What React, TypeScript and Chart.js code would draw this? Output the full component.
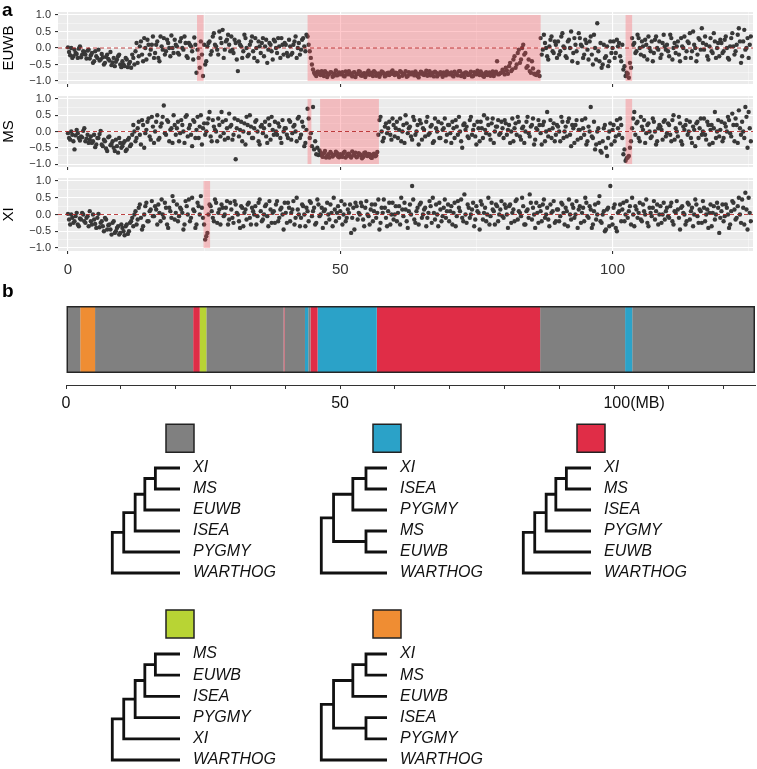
import React, { useEffect, useRef } from 'react';
import { Chart, registerables } from 'chart.js';

Chart.register(...registerables);
const FONT_FAMILY = '"Liberation Sans", Arial, Helvetica, sans-serif';
Chart.defaults.font.family = FONT_FAMILY;
Chart.defaults.color = '#333';

// ---------------- Panel a: window values ----------------
// series A windows start at WINDOW_START_A, series B windows at WINDOW_START_B, both every WINDOW_STEP_MB
const WINDOW_START_A = 0;
const WINDOW_START_B = 0.2;
const WINDOW_STEP_MB = 0.4;

const EUWB_VALUES_A = [
  0.02,-0.22,-0.3,-0.05,-0.18,-0.02,-0.28,-0.1,-0.2,-0.08,-0.32,-0.15,-0.4,-0.25,-0.05,-0.35,-0.28,-0.45,-0.2,-0.38,-0.52,-0.3,-0.42,-0.25,-0.5,
  -0.4,-0.55,-0.35,-0.48,-0.6,-0.3,-0.1,-0.45,0.05,-0.2,0.3,-0.35,0.1,-0.05,0.35,-0.15,0.2,-0.4,0.05,0.3,-0.1,0.15,-0.25,0.0,0.25,
  0.05,-0.2,0.3,-0.05,0.15,-0.3,0.1,-0.1,0.32,-0.75,-0.3,0.2,-0.85,-0.5,0.05,0.2,-0.1,0.45,0.05,-0.2,0.3,0.55,-0.05,0.25,0.1,
  0.35,-0.15,0.15,-0.7,0.1,-0.3,0.4,0.0,-0.2,0.2,-0.1,0.3,-0.4,0.05,0.15,-0.25,0.25,-0.05,0.1,-0.35,0.2,-0.15,0.05,0.3,-0.2,
  0.1,-0.25,0.05,-0.15,0.2,-0.3,0.15,-0.05,0.3,-0.1,0.35,-0.1,-0.5,-0.75,-0.85,-0.72,-0.82,-0.76,-0.7,-0.88,-0.78,-0.74,-0.84,-0.68,-0.8,
  -0.8,-0.73,-0.86,-0.77,-0.7,-0.82,-0.75,-0.88,-0.79,-0.72,-0.84,-0.76,-0.81,-0.69,-0.78,-0.85,-0.74,-0.8,-0.87,-0.71,-0.77,-0.83,-0.75,-0.79,-0.68,
  -0.82,-0.76,-0.88,-0.73,-0.8,-0.7,-0.85,-0.78,-0.74,-0.83,-0.77,-0.89,-0.72,-0.8,-0.76,-0.84,-0.7,-0.79,-0.86,-0.75,-0.81,-0.73,-0.87,-0.78,-0.71,
  -0.8,-0.74,-0.86,-0.77,-0.83,-0.7,-0.79,-0.88,-0.75,-0.81,-0.72,-0.85,-0.78,-0.69,-0.82,-0.76,-0.87,-0.73,-0.8,-0.84,-0.71,-0.77,-0.4,-0.79,-0.74,
  -0.72,-0.6,-0.78,-0.45,-0.65,-0.25,-0.5,-0.05,-0.35,0.1,-0.15,-0.55,-0.7,-0.4,-0.78,-0.82,-0.72,0.3,-0.05,0.15,-0.25,0.05,0.35,-0.15,0.1,
  0.2,-0.1,0.45,0.0,-0.3,0.25,0.5,-0.15,0.1,-0.45,0.3,0.05,-0.2,0.15,-0.35,0.35,-0.5,0.0,0.75,-0.4,-0.6,0.1,-0.25,-0.55,0.2,
  0.0,-0.3,0.25,0.15,-0.4,-0.65,-0.85,-0.78,-0.45,0.3,0.15,-0.1,0.3,-0.2,0.05,0.25,-0.35,0.0,0.2,-0.15,0.35,-0.05,-0.3,0.15,0.05,
  0.1,-0.25,0.3,0.0,-0.15,0.2,-0.4,0.05,0.35,-0.1,0.15,-0.3,0.5,0.0,-0.2,0.25,0.6,-0.05,0.1,-0.35,0.3,-0.15,0.2,0.0,-0.25,
  0.15,-0.1,0.35,-0.3,0.05,0.45,-0.2,0.1,0.6,-0.45,0.2,-0.05,0.3,0.1,
];
const EUWB_VALUES_B = [
  -0.12,0.0,-0.25,-0.15,-0.3,0.05,-0.2,-0.12,-0.32,-0.05,-0.22,-0.45,-0.1,-0.3,-0.38,-0.18,-0.5,-0.27,-0.33,-0.12,-0.44,-0.55,-0.35,-0.2,-0.58,
  -0.5,-0.3,-0.58,-0.42,-0.2,-0.5,0.15,-0.25,0.2,-0.4,0.0,0.25,-0.2,0.1,-0.3,0.1,-0.3,0.35,-0.05,-0.2,0.25,0.0,0.38,-0.15,0.1,
  -0.15,0.2,0.0,0.35,-0.25,0.15,0.05,-0.35,0.1,-0.05,-0.6,-0.2,0.1,-0.4,0.15,-0.2,0.35,0.1,-0.05,0.5,0.15,-0.3,0.2,0.4,-0.1,
  -0.05,0.25,-0.35,0.2,0.05,-0.1,0.3,-0.25,0.1,0.35,-0.3,0.0,0.2,-0.15,0.3,0.05,-0.45,0.15,-0.1,0.25,0.0,0.3,-0.3,0.1,0.15,
  -0.15,0.25,-0.2,0.1,0.35,0.0,-0.2,0.25,0.05,0.4,0.1,-0.3,-0.65,-0.8,-0.72,-0.79,-0.7,-0.85,-0.75,-0.81,-0.73,-0.87,-0.77,-0.83,-0.74,
  -0.77,-0.84,-0.71,-0.8,-0.76,-0.86,-0.73,-0.79,-0.7,-0.83,-0.78,-0.88,-0.74,-0.81,-0.75,-0.7,-0.84,-0.77,-0.8,-0.73,-0.86,-0.76,-0.82,-0.72,-0.79,
  -0.75,-0.81,-0.7,-0.84,-0.77,-0.87,-0.73,-0.8,-0.76,-0.71,-0.85,-0.78,-0.74,-0.82,-0.69,-0.79,-0.83,-0.75,-0.72,-0.86,-0.78,-0.8,-0.74,-0.83,-0.77,
  -0.76,-0.83,-0.72,-0.79,-0.7,-0.85,-0.77,-0.74,-0.81,-0.78,-0.86,-0.73,-0.8,-0.75,-0.71,-0.84,-0.78,-0.82,-0.74,-0.77,-0.85,-0.72,-0.8,-0.76,-0.66,
  -0.8,-0.68,-0.55,-0.7,-0.35,-0.6,-0.15,-0.45,0.0,-0.2,-0.6,-0.35,-0.75,-0.62,-0.8,-0.76,-0.85,-0.2,0.4,0.0,-0.35,0.25,-0.1,0.2,-0.3,
  -0.2,0.35,0.05,-0.25,0.2,0.0,-0.4,0.3,-0.1,0.45,0.1,-0.3,0.25,-0.05,0.2,-0.2,0.4,-0.35,-0.1,0.15,-0.5,-0.3,0.05,-0.4,-0.15,
  0.2,-0.15,0.05,-0.25,0.1,-0.55,-0.75,-0.9,-0.6,0.1,-0.15,0.4,0.0,0.2,-0.25,0.1,0.35,-0.1,-0.4,0.25,0.0,0.2,-0.2,0.4,-0.05,
  -0.1,0.4,-0.35,0.15,0.05,-0.2,0.3,0.0,-0.3,0.2,0.45,-0.1,0.1,-0.4,0.3,-0.05,0.15,0.35,-0.25,0.05,-0.1,0.45,-0.3,0.15,0.25,
  -0.15,0.25,0.0,-0.35,0.3,0.05,-0.1,0.4,0.2,-0.25,0.55,0.0,-0.3,0.35,
];

const MS_VALUES_A = [
  -0.05,-0.25,-0.1,-0.55,0.05,-0.2,-0.15,0.02,-0.3,-0.1,-0.25,-0.35,-0.1,-0.4,-0.2,0.02,-0.45,-0.3,-0.6,-0.15,-0.38,-0.5,-0.25,-0.65,-0.35,
  -0.45,-0.3,-0.55,-0.2,-0.4,0.2,-0.3,0.1,-0.1,0.35,-0.5,0.05,0.4,-0.25,0.15,0.0,0.5,-0.2,0.25,0.8,-0.1,0.3,0.05,-0.35,0.2,
  0.1,-0.3,0.35,0.0,0.45,-0.15,0.2,-0.45,0.3,0.05,-0.2,0.5,0.1,-0.1,0.25,0.6,-0.3,0.15,0.0,0.4,-0.15,0.3,-0.25,0.1,0.55,
  0.2,-0.1,-0.85,0.35,0.05,-0.3,0.25,0.45,-0.05,0.15,-0.2,0.3,0.0,-0.4,0.2,0.1,-0.15,0.4,-0.25,0.05,0.3,-0.1,0.15,-0.35,0.0,
  0.1,-0.2,0.3,-0.05,0.2,-0.3,0.45,-0.1,0.15,-0.35,0.7,-0.2,-0.45,-0.55,-0.7,-0.72,-0.65,-0.78,-0.6,-0.75,-0.8,-0.68,-0.73,-0.62,-0.77,
  -0.7,-0.78,-0.62,-0.75,-0.68,-0.8,-0.72,-0.65,-0.77,-0.7,-0.82,-0.66,-0.74,-0.69,-0.79,-0.71,-0.76,-0.63,0.35,0.0,-0.2,0.25,0.1,-0.1,0.4,
  -0.15,0.3,0.05,-0.3,0.2,0.5,-0.05,0.15,-0.25,0.35,0.0,-0.4,0.25,0.1,-0.15,0.45,-0.05,0.2,-0.3,0.1,0.3,-0.2,0.05,0.4,-0.1,
  0.2,-0.35,0.1,0.35,-0.1,0.0,-0.5,0.25,0.15,-0.2,0.45,0.05,-0.15,0.3,-0.3,0.1,0.5,-0.05,0.2,-0.25,0.4,0.0,0.15,-0.1,0.3,
  -0.2,0.25,0.05,-0.35,0.4,0.1,-0.1,0.3,-0.25,0.15,0.0,0.45,-0.15,0.2,-0.4,0.1,0.35,-0.05,0.2,-0.3,0.6,0.05,-0.2,0.25,-0.1,
  0.15,-0.3,0.3,0.0,-0.15,0.4,-0.45,0.1,0.2,-0.25,0.05,0.35,-0.1,-0.4,0.15,0.75,-0.2,-0.55,0.0,-0.35,-0.65,0.1,-0.5,-0.2,0.25,
  0.05,-0.3,0.35,-0.1,0.2,-0.7,-0.9,-0.8,-0.5,0.1,0.6,0.25,-0.2,0.45,0.05,-0.35,0.2,0.0,-0.15,0.3,-0.4,0.1,0.15,-0.25,0.35,
  -0.05,0.2,-0.3,0.5,0.1,-0.15,0.25,-0.4,0.05,0.35,0.0,-0.2,0.15,-0.45,0.3,0.1,-0.1,0.4,-0.25,0.2,0.05,-0.35,0.6,0.0,-0.15,
  0.3,-0.2,0.15,0.45,-0.05,0.55,-0.3,0.2,0.65,-0.1,0.0,0.75,-0.5,0.1,
];
const MS_VALUES_B = [
  -0.2,0.0,-0.3,-0.12,-0.05,-0.28,-0.18,0.1,-0.22,-0.35,-0.15,-0.3,-0.48,-0.2,-0.08,-0.4,-0.25,-0.52,-0.18,-0.42,-0.3,-0.6,-0.45,-0.2,-0.5,
  -0.35,-0.6,-0.25,-0.45,-0.1,0.0,-0.2,0.3,-0.4,0.2,-0.05,0.3,-0.15,0.45,-0.35,0.3,-0.25,0.15,0.45,-0.05,0.35,-0.3,0.1,0.5,-0.1,
  0.3,-0.05,0.2,-0.35,0.5,0.1,-0.1,0.35,-0.2,0.45,0.15,-0.4,0.25,0.0,0.4,-0.15,0.35,0.05,-0.3,0.2,0.6,-0.05,0.35,-0.2,0.15,
  -0.25,0.4,0.1,-0.15,0.3,0.0,-0.4,0.2,0.5,-0.2,0.1,0.35,-0.3,0.15,-0.05,0.3,-0.35,0.2,0.45,-0.1,0.0,0.25,-0.2,0.35,0.1,
  -0.1,0.35,-0.25,0.15,0.0,0.4,-0.2,0.3,-0.45,0.05,0.4,-0.05,0.75,-0.3,-0.5,-0.58,-0.74,-0.67,-0.8,-0.7,-0.63,-0.77,-0.71,-0.66,-0.79,
  -0.74,-0.66,-0.8,-0.69,-0.76,-0.61,-0.73,-0.79,-0.67,-0.72,-0.78,-0.64,-0.75,-0.7,-0.81,-0.68,-0.74,-0.1,0.45,-0.3,0.15,-0.05,0.3,-0.25,0.2,
  0.1,-0.2,0.4,0.0,-0.35,0.25,0.1,-0.15,0.45,-0.1,0.2,0.35,-0.25,0.05,0.3,-0.1,0.15,-0.35,0.4,0.0,-0.2,0.25,0.1,-0.3,0.2,
  -0.05,0.3,-0.2,0.15,0.45,-0.3,0.2,0.05,-0.15,0.35,-0.1,0.2,-0.4,0.1,0.3,-0.2,0.05,0.4,-0.1,0.25,-0.35,0.15,0.35,-0.05,0.1,
  0.35,-0.1,0.2,0.0,-0.3,0.25,0.45,-0.15,0.1,-0.35,0.3,-0.05,0.15,0.4,-0.25,0.05,0.2,-0.4,0.3,0.0,-0.15,0.35,0.1,-0.3,0.2,
  0.0,0.45,-0.2,0.15,0.3,-0.1,0.2,-0.35,0.35,0.05,-0.2,0.1,0.4,-0.3,0.0,-0.15,0.3,-0.4,0.1,-0.6,-0.3,0.2,-0.75,0.0,-0.4,
  0.2,-0.15,0.1,0.4,-0.2,-0.55,-0.82,-0.75,-0.3,0.4,-0.1,0.3,-0.3,0.15,0.35,-0.05,0.25,-0.2,0.4,0.0,-0.3,0.2,0.05,0.3,-0.15,
  0.25,-0.1,0.35,-0.25,0.0,0.45,-0.3,0.15,0.2,-0.1,0.3,-0.35,0.05,0.25,-0.2,0.4,0.0,-0.1,0.3,-0.4,0.2,0.1,-0.2,0.35,0.05,
  -0.3,0.25,0.0,0.35,-0.15,0.2,0.4,-0.35,0.1,0.3,-0.2,0.45,0.6,-0.3,
];

const XI_VALUES_A = [
  0.02,-0.3,-0.1,-0.2,0.05,-0.35,-0.15,0.0,-0.25,-0.05,0.1,-0.3,-0.15,-0.4,0.02,-0.25,-0.35,-0.1,-0.45,-0.3,-0.6,-0.2,-0.5,-0.35,-0.55,
  -0.4,-0.62,-0.3,-0.5,-0.2,-0.35,0.1,-0.15,0.3,-0.45,0.0,0.35,-0.2,0.15,-0.05,0.25,-0.3,0.05,0.45,-0.1,0.2,-0.4,0.1,0.55,-0.15,
  0.3,-0.05,0.15,-0.45,0.4,0.0,-0.2,0.5,0.1,-0.3,0.25,0.55,-0.1,-0.75,-0.55,0.3,0.1,-0.2,0.35,0.05,-0.3,0.2,0.0,0.4,-0.15,
  0.15,-0.25,0.3,0.0,-0.4,0.2,0.05,-0.15,0.35,-0.3,0.1,0.25,-0.05,0.45,-0.2,0.0,0.3,-0.35,0.15,0.05,-0.25,0.4,-0.1,0.2,-0.45,
  0.05,0.35,-0.2,0.15,-0.3,0.5,0.0,-0.1,0.25,-0.35,0.1,0.4,-0.05,0.2,-0.25,0.3,0.0,-0.4,0.15,0.35,-0.15,0.05,0.5,-0.2,0.25,
  0.1,-0.3,0.3,-0.1,0.05,-0.55,0.2,0.35,-0.15,0.0,0.25,-0.35,0.4,-0.05,0.15,-0.2,0.3,0.05,-0.45,0.2,0.45,-0.1,0.1,-0.3,0.35,
  0.0,-0.2,0.25,0.5,-0.05,0.15,-0.4,0.3,0.85,-0.15,0.1,-0.3,0.35,0.0,0.2,-0.1,0.4,-0.25,0.05,0.3,-0.35,0.15,-0.05,0.45,0.1,
  -0.2,0.25,0.05,-0.35,0.4,0.1,-0.1,0.6,-0.25,0.2,0.0,0.35,-0.15,0.1,-0.45,0.3,0.05,-0.2,0.5,-0.05,0.15,-0.3,0.25,0.0,0.4,
  -0.1,0.2,-0.4,0.3,0.05,-0.2,0.45,0.1,-0.05,0.25,-0.3,0.15,0.6,-0.15,0.0,0.35,-0.25,0.1,0.3,-0.1,0.2,-0.35,0.05,0.4,-0.2,
  0.15,-0.05,0.3,-0.3,0.1,0.45,-0.15,0.2,0.0,-0.4,0.25,0.05,-0.2,0.35,-0.1,0.15,-0.3,0.3,0.0,0.55,-0.25,0.1,-0.45,0.2,0.85,
  -0.3,0.3,-0.5,0.1,-0.2,0.35,0.0,-0.1,0.25,0.5,-0.35,0.15,0.05,-0.15,0.3,0.0,-0.25,0.2,-0.05,0.4,0.1,-0.3,0.25,0.0,-0.15,
  0.2,-0.1,0.35,-0.3,0.05,0.15,-0.45,0.25,0.0,-0.2,0.3,0.1,-0.35,0.45,-0.05,0.15,-0.25,0.2,0.0,-0.4,0.3,0.05,-0.15,0.35,-0.55,
  0.1,-0.2,0.3,0.0,-0.3,0.4,0.15,-0.1,0.5,-0.25,0.2,0.65,-0.45,0.05,
];
const XI_VALUES_B = [
  -0.15,0.0,-0.25,-0.05,-0.3,-0.12,0.05,-0.2,-0.1,-0.35,-0.2,0.0,-0.28,-0.1,-0.38,-0.2,-0.5,-0.15,-0.32,-0.45,-0.25,-0.55,-0.4,-0.6,-0.3,
  -0.5,-0.35,-0.58,-0.25,-0.1,0.0,-0.3,0.2,-0.1,-0.35,0.25,-0.2,0.1,0.4,-0.05,0.15,0.3,-0.2,0.0,0.35,-0.3,0.2,-0.1,0.4,0.05,
  -0.2,0.2,0.05,-0.3,0.25,0.45,-0.1,0.15,-0.4,0.35,0.0,0.2,-0.3,-0.65,0.0,0.25,-0.1,0.45,-0.25,0.15,0.3,-0.05,0.2,-0.3,0.35,
  -0.1,0.4,0.05,-0.2,0.25,-0.35,0.15,0.3,-0.1,0.2,0.0,-0.3,0.35,0.1,-0.15,0.25,-0.05,0.4,-0.25,0.1,0.3,-0.2,0.15,0.0,0.35,
  -0.25,0.2,0.05,0.4,-0.1,0.15,-0.35,0.3,0.0,0.2,-0.2,0.35,0.1,-0.3,0.45,-0.05,0.2,0.1,-0.25,0.0,0.3,-0.35,0.15,0.05,-0.1,
  0.4,0.0,-0.2,0.15,0.3,-0.1,-0.45,0.25,0.05,0.35,-0.15,0.2,0.0,-0.3,0.3,0.1,-0.1,0.45,-0.25,0.05,0.2,-0.35,0.35,0.0,-0.15,
  0.25,0.05,-0.3,0.15,0.35,-0.2,0.1,0.0,0.45,-0.25,0.2,0.3,-0.1,0.15,-0.35,0.05,0.25,0.5,-0.15,0.0,0.35,-0.2,0.2,-0.1,0.3,
  0.1,-0.3,0.35,-0.05,0.2,0.45,-0.2,0.0,0.3,-0.1,0.15,-0.35,0.25,0.05,0.4,-0.15,0.2,0.0,-0.3,0.35,0.1,0.3,-0.2,0.15,-0.05,
  0.3,0.0,0.25,-0.25,0.15,0.4,-0.15,0.05,0.5,-0.3,0.1,-0.1,0.35,0.2,-0.4,0.05,0.25,-0.2,0.45,0.0,-0.15,0.3,0.1,-0.25,0.15,
  -0.2,0.35,0.05,0.2,-0.35,0.0,0.3,-0.1,0.4,0.15,-0.25,0.2,0.5,-0.05,0.25,-0.4,0.1,-0.15,0.35,-0.2,0.0,-0.5,0.15,-0.35,-0.1,
  0.2,-0.4,0.05,0.3,0.15,-0.2,0.4,0.1,-0.3,0.0,0.25,-0.1,0.35,-0.2,0.1,0.45,-0.35,0.05,0.2,-0.15,0.3,0.0,-0.25,0.35,0.1,
  -0.05,0.25,-0.2,0.1,0.4,-0.1,0.2,0.05,-0.3,0.35,-0.15,0.2,0.0,0.3,-0.25,0.1,0.4,-0.2,0.15,0.05,-0.35,0.25,0.0,0.2,-0.1,
  0.3,-0.05,0.2,-0.4,0.1,0.35,-0.15,0.25,0.0,0.45,-0.3,0.15,0.5,-0.2,
];

// highlighted regions [start MB, end MB]
const EUWB_REGIONS = [[23.7, 24.9], [44.0, 86.8], [102.4, 103.6]];
const MS_REGIONS = [[44.0, 44.7], [46.3, 57.1], [102.4, 103.6]];
const XI_REGIONS = [[24.9, 26.1]];
const REGION_Y = [-1, 1];

const A_X_TICKS = [0, 25, 50, 75, 100, 125];
const A_X_LABELS = ['0', '', '50', '', '100', ''];
const A_Y_TICKS = [-1, -0.75, -0.5, -0.25, 0, 0.25, 0.5, 0.75, 1];

// ---------------- Panel b: topology blocks along the chromosome ----------------
const CHROMOSOME_MB = 125.7;
const BLOCK_STARTS = [0, 2.6, 5.3, 23.2, 24.4, 25.6, 39.7, 39.85, 43.6, 44.2, 44.6, 45.9, 56.7, 86.5, 102.0, 103.3];
const BLOCK_ENDS = [2.6, 5.3, 23.2, 24.4, 25.6, 39.7, 39.85, 43.6, 44.2, 44.6, 45.9, 56.7, 86.5, 102.0, 103.3, 125.7];
const BLOCK_TOPOLOGY = ['grey', 'orange', 'grey', 'red', 'green', 'grey', 'red', 'grey', 'blue', 'grey', 'red', 'blue', 'red', 'grey', 'blue', 'grey'];
const B_X_TICKS = [0, 10, 20, 30, 40, 50, 60, 70, 80, 90, 100, 110, 120];
const B_X_LABELS = ['0', '', '', '', '', '50', '', '', '', '', '         100(MB)', '', ''];

// ---------------- Trees (Newick with branch lengths) ----------------
const TOPOLOGY_COLORS = { grey: '#808080', blue: '#2ba2c8', red: '#e02d47', green: '#b8d434', orange: '#ef8d33' };
const TREE_GREY = '(((((XI:28,MS:28):12,EUWB:40):11,ISEA:51):13,PYGMY:64):13,WARTHOG:77);';
const TREE_BLUE = '((((XI:24,ISEA:24):15,PYGMY:39):22,(MS:24,EUWB:24):37):14,WARTHOG:75);';
const TREE_RED = '(((((XI:28,MS:28):12,ISEA:40):11,PYGMY:51):13,EUWB:64):13,WARTHOG:77);';
const TREE_GREEN = '(((((MS:28,EUWB:28):12,ISEA:40):11,PYGMY:51):13,XI:64):13,WARTHOG:77);';
const TREE_ORANGE = '((((XI:24,MS:24):15,EUWB:39):22,(ISEA:24,PYGMY:24):37):14,WARTHOG:75);';

// ---------------- layout (pixels) ----------------
const A_X_RANGE = [-1.83, 125.8];
const A_Y_RANGE = [-1.09, 1.09];
// chart areas: EUWB 12..84, MS 96..167, XI 178..251 (canvases overlap, transparent)
const PANELS = [
  { label: 'EUWB', a: EUWB_VALUES_A, b: EUWB_VALUES_B, regions: EUWB_REGIONS, top: 0, height: 96, padTop: 12, axisH: 12, showLabels: false },
  { label: 'MS', a: MS_VALUES_A, b: MS_VALUES_B, regions: MS_REGIONS, top: 84, height: 95, padTop: 12, axisH: 12, showLabels: false },
  { label: 'XI', a: XI_VALUES_A, b: XI_VALUES_B, regions: XI_REGIONS, top: 166, height: 114, padTop: 12, axisH: 29, showLabels: true },
];
const TREE_LAYOUT = [
  { newick: TREE_GREY, color: 'grey', rootX: 103, leafX: 180, top: 468, bottom: 573 },
  { newick: TREE_BLUE, color: 'blue', rootX: 312, leafX: 387, top: 468, bottom: 573 },
  { newick: TREE_RED, color: 'red', rootX: 514, leafX: 591, top: 468, bottom: 573 },
  { newick: TREE_GREEN, color: 'green', rootX: 103, leafX: 180, top: 654, bottom: 760 },
  { newick: TREE_ORANGE, color: 'orange', rootX: 312, leafX: 387, top: 654, bottom: 760 },
];
const BOX_LEAF_OFFSET = -1.42;
const TREE_Y_MIN = -2.25;
const SHADE_COLOR = 'rgba(255,75,85,0.3)';

const panelBackground = {
  id: 'panelBackground',
  beforeDraw(chart: any) {
    const { ctx, chartArea: a } = chart;
    ctx.save();
    ctx.fillStyle = '#ebebeb';
    ctx.fillRect(a.left, a.top, a.width, a.height);
    ctx.restore();
  },
};

const fmtY = (v: number) => (v < 0 ? '\u2212' : '') + Math.abs(v).toFixed(1);
const isMajorY = (v: number) => Math.abs(v * 2 - Math.round(v * 2)) < 1e-6;
const isMajorX = (v: number) => Math.abs(v % 50) < 1e-6;

function ScatterPanel(p: any) {
  const ref = useRef<HTMLCanvasElement>(null);
  useEffect(() => {
    const ptsA = p.a.map((v: number, i: number) => ({ x: WINDOW_START_A + i * WINDOW_STEP_MB, y: v }));
    const ptsB = p.b.map((v: number, i: number) => ({ x: WINDOW_START_B + i * WINDOW_STEP_MB, y: v }));
    const shade = {
      id: 'shade',
      afterDatasetDraw(chart: any, args: any) {
        if (args.index !== 1) return;
        const { ctx } = chart;
        const xs = chart.scales.x, ys = chart.scales.y;
        ctx.save();
        ctx.fillStyle = SHADE_COLOR;
        for (const [s, e] of p.regions) {
          const x0 = xs.getPixelForValue(s), x1 = xs.getPixelForValue(e);
          const y0 = ys.getPixelForValue(REGION_Y[1]), y1 = ys.getPixelForValue(REGION_Y[0]);
          ctx.fillRect(x0, y0, x1 - x0, y1 - y0);
        }
        ctx.restore();
      },
    };
    const pointStyle = { pointRadius: 2.2, pointBackgroundColor: '#383838', pointBorderWidth: 0, backgroundColor: '#383838', borderWidth: 0 };
    const chart = new Chart(ref.current as HTMLCanvasElement, {
      type: 'scatter',
      data: {
        datasets: [
          {
            type: 'line',
            data: [{ x: A_X_RANGE[0], y: 0 }, { x: A_X_RANGE[1], y: 0 }],
            borderColor: 'rgba(178,34,34,0.85)', borderWidth: 1.1, borderDash: [4, 3], pointRadius: 0, fill: false,
          } as any,
          { data: ptsA, ...pointStyle } as any,
          { data: ptsB, ...pointStyle } as any,
        ],
      },
      options: {
        responsive: false, animation: false, events: [], devicePixelRatio: 1,
        layout: { padding: { top: p.padTop, right: 2, left: 0, bottom: 0 } },
        plugins: { legend: { display: false }, tooltip: { enabled: false } },
        scales: {
          x: {
            type: 'linear', min: A_X_RANGE[0], max: A_X_RANGE[1],
            afterBuildTicks: (s: any) => { s.ticks = A_X_TICKS.map((v) => ({ value: v })); },
            afterFit: (s: any) => { s.height = p.axisH; },
            ticks: {
              display: p.showLabels, autoSkip: false, maxRotation: 0, padding: 7, color: '#333', font: { size: 15 },
              callback: (v: any) => { const i = A_X_TICKS.indexOf(v); return i >= 0 ? A_X_LABELS[i] : ''; },
            },
            grid: {
              color: (c: any) => (isMajorX(c.tick.value) ? '#ffffff' : 'rgba(255,255,255,0.75)'),
              lineWidth: (c: any) => (isMajorX(c.tick.value) ? 1.1 : 0.55),
              tickLength: 3,
              tickColor: (c: any) => (isMajorX(c.tick.value) ? '#333' : 'rgba(0,0,0,0)'),
            },
            border: { display: false },
          },
          y: {
            type: 'linear', min: A_Y_RANGE[0], max: A_Y_RANGE[1],
            afterBuildTicks: (s: any) => { s.ticks = A_Y_TICKS.map((v) => ({ value: v })); },
            afterFit: (s: any) => { s.width = 58; },
            ticks: {
              autoSkip: false, padding: 4, color: '#333', font: { size: 11 },
              callback: (v: any) => (isMajorY(v) ? fmtY(v) : ''),
            },
            grid: {
              color: (c: any) => (isMajorY(c.tick.value) ? '#ffffff' : 'rgba(255,255,255,0.75)'),
              lineWidth: (c: any) => (isMajorY(c.tick.value) ? 1.1 : 0.55),
              tickLength: 3,
              tickColor: (c: any) => (isMajorY(c.tick.value) ? '#333' : 'rgba(0,0,0,0)'),
            },
            border: { display: false },
            title: { display: true, text: p.label, color: '#000', font: { size: 15 }, padding: { top: 0, bottom: 0 } },
          },
        },
      } as any,
      plugins: [panelBackground, shade],
    });
    return () => chart.destroy();
  }, []);
  return (
    <canvas ref={ref} width={757} height={p.height}
      style={{ position: 'absolute', left: 0, top: p.top, width: 757, height: p.height }} />
  );
}

function BlockBar() {
  const ref = useRef<HTMLCanvasElement>(null);
  useEffect(() => {
    const chart = new Chart(ref.current as HTMLCanvasElement, {
      type: 'bar',
      data: {
        labels: ['chr'],
        datasets: [
          { data: [[0, CHROMOSOME_MB]], backgroundColor: 'rgba(0,0,0,0)', borderColor: '#262626', borderWidth: 1.5, borderSkipped: false, order: -1 } as any,
          ...BLOCK_STARTS.map((s, i) => ({
            data: [[s, BLOCK_ENDS[i]]],
            backgroundColor: (TOPOLOGY_COLORS as any)[BLOCK_TOPOLOGY[i]],
            borderWidth: 0,
          })) as any,
        ],
      },
      options: {
        indexAxis: 'y', responsive: false, animation: false, events: [], devicePixelRatio: 1,
        datasets: { bar: { grouped: false, barPercentage: 0.736, categoryPercentage: 1 } },
        layout: { padding: { top: 14, left: 66, right: 2, bottom: 0 } },
        plugins: { legend: { display: false }, tooltip: { enabled: false } },
        scales: {
          y: { display: false },
          x: {
            type: 'linear', min: 0, max: CHROMOSOME_MB,
            afterBuildTicks: (s: any) => { s.ticks = B_X_TICKS.map((v) => ({ value: v })); },
            afterFit: (s: any) => { s.height = 35; },
            grid: { drawOnChartArea: false, tickLength: 4, color: '#333' },
            border: { display: true, color: '#333', width: 1 },
            ticks: {
              autoSkip: false, maxRotation: 0, padding: 5, color: '#111', font: { size: 16 },
              callback: (v: any) => { const i = B_X_TICKS.indexOf(v); return i >= 0 ? B_X_LABELS[i] : ''; },
            },
          },
        },
      } as any,
    });
    return () => chart.destroy();
  }, []);
  return <canvas ref={ref} width={757} height={140} style={{ position: 'absolute', left: 0, top: 280, width: 757, height: 140 }} />;
}

type TNode = { name: string; len: number; children: TNode[] };
function parseNewick(s: string): TNode {
  let i = 0;
  function node(): TNode {
    const n: TNode = { name: '', len: 0, children: [] };
    if (s[i] === '(') {
      i++;
      n.children.push(node());
      while (s[i] === ',') { i++; n.children.push(node()); }
      i++;
    }
    let name = '';
    while (i < s.length && !',():;'.includes(s[i])) name += s[i++];
    n.name = name.trim();
    if (s[i] === ':') {
      i++;
      let num = '';
      while (i < s.length && !',();'.includes(s[i])) num += s[i++];
      n.len = parseFloat(num);
    }
    return n;
  }
  return node();
}

function layoutTree(root: TNode) {
  const leaves: string[] = [];
  const paths: { x: number; y: number }[][] = [];
  let maxX = 0;
  function walk(n: TNode, parentX: number): { x: number; y: number } {
    const x = parentX + n.len;
    if (!n.children.length) {
      const y = leaves.length;
      leaves.push(n.name);
      maxX = Math.max(maxX, x);
      return { x, y };
    }
    const kids = n.children.map((c) => walk(c, x));
    const first = kids[0], last = kids[kids.length - 1];
    paths.push([{ x: first.x, y: first.y }, { x, y: first.y }, { x, y: last.y }, { x: last.x, y: last.y }]);
    kids.slice(1, -1).forEach((k) => paths.push([{ x, y: k.y }, { x: k.x, y: k.y }]));
    return { x, y: (first.y + last.y) / 2 };
  }
  walk(root, 0);
  return { leaves, paths, maxX };
}

function TreeChart(p: any) {
  const ref = useRef<HTMLCanvasElement>(null);
  // padding must exceed the label half-height + tick padding that Chart.js reserves
  const padL = 12, padT = 26, padB = 26, labelW = 115;
  const nLeaves = 6;
  const step = (p.bottom - p.top) / (nLeaves - 1);
  const areaTop = p.top + TREE_Y_MIN * step;
  const canvasTop = Math.round(areaTop - padT);
  const width = p.leafX - p.rootX + padL + labelW;
  const height = Math.round(p.bottom + padB - canvasTop);
  const padTop = areaTop - canvasTop;
  const padBottom = canvasTop + height - p.bottom;
  useEffect(() => {
    const { leaves, paths, maxX } = layoutTree(parseNewick(p.newick));
    const color = (TOPOLOGY_COLORS as any)[p.color];
    const chart = new Chart(ref.current as HTMLCanvasElement, {
      type: 'scatter',
      data: {
        datasets: [
          {
            data: [{ x: maxX, y: BOX_LEAF_OFFSET }], pointStyle: 'rect', pointRadius: 19.8,
            pointBackgroundColor: color, pointBorderColor: '#222', pointBorderWidth: 1.5, showLine: false, clip: false,
          } as any,
          ...paths.map((d) => ({
            data: d, showLine: true, pointRadius: 0, borderColor: '#111', borderWidth: 2.8,
            borderJoinStyle: 'miter', borderCapStyle: 'butt', clip: false,
          })) as any,
        ],
      },
      options: {
        responsive: false, animation: false, events: [], devicePixelRatio: 1,
        layout: { padding: { left: padL, top: padTop, bottom: padBottom, right: 0 } },
        plugins: { legend: { display: false }, tooltip: { enabled: false } },
        scales: {
          x: { type: 'linear', display: false, min: 0, max: maxX },
          y: {
            type: 'linear', position: 'right', reverse: true, min: TREE_Y_MIN, max: leaves.length - 1,
            afterBuildTicks: (s: any) => { s.ticks = leaves.map((_, i) => ({ value: i })); },
            afterFit: (s: any) => { s.width = labelW; },
            grid: { display: false, drawTicks: false },
            border: { display: false },
            ticks: {
              autoSkip: false, padding: 13, color: '#111', font: { size: 16, style: 'italic' },
              callback: (v: any) => leaves[v] ?? '',
            },
          },
        },
      } as any,
    });
    return () => chart.destroy();
  }, []);
  return (
    <canvas ref={ref} width={width} height={height}
      style={{ position: 'absolute', left: p.rootX - padL, top: canvasTop, width, height }} />
  );
}

export default function App() {
  const letter: React.CSSProperties = {
    position: 'absolute', left: 2, fontFamily: FONT_FAMILY, fontWeight: 'bold', fontSize: 19, lineHeight: '19px', color: '#000',
  };
  return (
    <div style={{ position: 'absolute', left: 0, top: 0, width: 757, height: 769, background: '#fff', overflow: 'hidden' }}>
      {PANELS.map((p) => <ScatterPanel key={p.label} {...p} />)}
      <BlockBar />
      {TREE_LAYOUT.map((t) => <TreeChart key={t.color} {...t} />)}
      <div style={{ ...letter, top: 0 }}>a</div>
      <div style={{ ...letter, top: 281 }}>b</div>
    </div>
  );
}
